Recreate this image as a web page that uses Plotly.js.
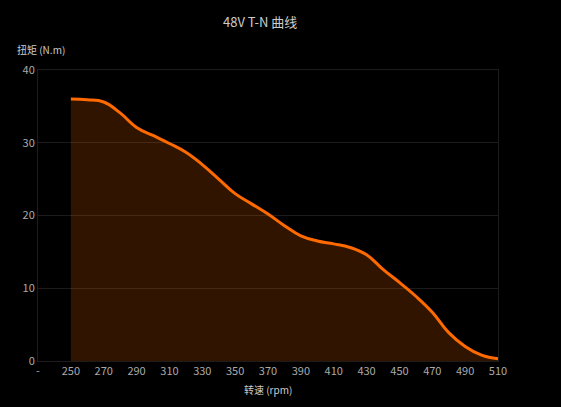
<!DOCTYPE html>
<html>
<head>
<meta charset="utf-8">
<script src="https://cdn.plot.ly/plotly-3.0.1.min.js"></script>
<style>
html,body{margin:0;padding:0;background:#000;}
#chart{width:561px;height:407px;}
</style>
</head>
<body>
<div id="chart"></div>
<script>
const speed = [250,260,270,280,290,300,310,320,330,340,350,360,370,380,390,400,410,420,430,440,450,460,470,480,490,500,510];
const torque = [36.0,35.9,35.6,34.1,32.1,31.0,29.9,28.7,27.0,25.0,23.0,21.6,20.2,18.6,17.2,16.5,16.1,15.6,14.6,12.6,10.8,8.9,6.7,3.9,2.0,0.8,0.3];
const xTickVals = [230,250,270,290,310,330,350,370,390,410,430,450,470,490,510];
const xTickText = ["-","250","270","290","310","330","350","370","390","410","430","450","470","490","510"];
const yTickVals = [0,10,20,30,40];

const font = "'Noto Sans CJK SC', 'Noto Sans', sans-serif";

Plotly.newPlot('chart', [{
  x: speed, y: torque, type: 'scatter', mode: 'lines',
  line: {color: '#ff6a00', width: 3, shape: 'spline', smoothing: 1.2},
  fill: 'tozeroy', fillcolor: 'rgba(255,106,0,0.19)',
  hoverinfo: 'skip'
}], {
  width: 561, height: 407,
  paper_bgcolor: '#000', plot_bgcolor: '#000',
  margin: {l: 38, r: 63, t: 70, b: 46},
  showlegend: false,
  font: {family: font, color: '#aaaaaa', size: 11},
  xaxis: {
    range: [230, 510], tickvals: xTickVals, ticktext: xTickText,
    showgrid: false, zeroline: false,
    showline: true, mirror: true, linecolor: '#1c1c1c', linewidth: 1,
    ticks: '', ticklen: 0, tickfont: {size: 11, color: '#aaaaaa'}
  },
  yaxis: {
    range: [0, 40], tickvals: yTickVals,
    showgrid: true, gridcolor: '#1c1c1c', zeroline: false,
    showline: true, mirror: true, linecolor: '#1c1c1c', linewidth: 1,
    ticks: '', tickfont: {size: 11, color: '#aaaaaa'}
  },
  annotations: [
    {text: '48V T-N 曲线', xref: 'paper', yref: 'paper', x: 0.483, y: 1, yshift: 49,
     showarrow: false, xanchor: 'center', yanchor: 'middle', font: {size: 13, color: '#cccccc', family: font}},
    {text: '扭矩 (N.m)', xref: 'paper', yref: 'paper', x: 0, xshift: -23, y: 1, yshift: 21,
     showarrow: false, xanchor: 'left', yanchor: 'middle', font: {size: 10, color: '#cccccc', family: font}},
    {text: '转速 (rpm)', xref: 'paper', yref: 'paper', x: 0.5, y: 0, yshift: -28,
     showarrow: false, xanchor: 'center', yanchor: 'middle', font: {size: 10, color: '#cccccc', family: font}}
  ]
}, {displayModeBar: false, staticPlot: true});
</script>
</body>
</html>
